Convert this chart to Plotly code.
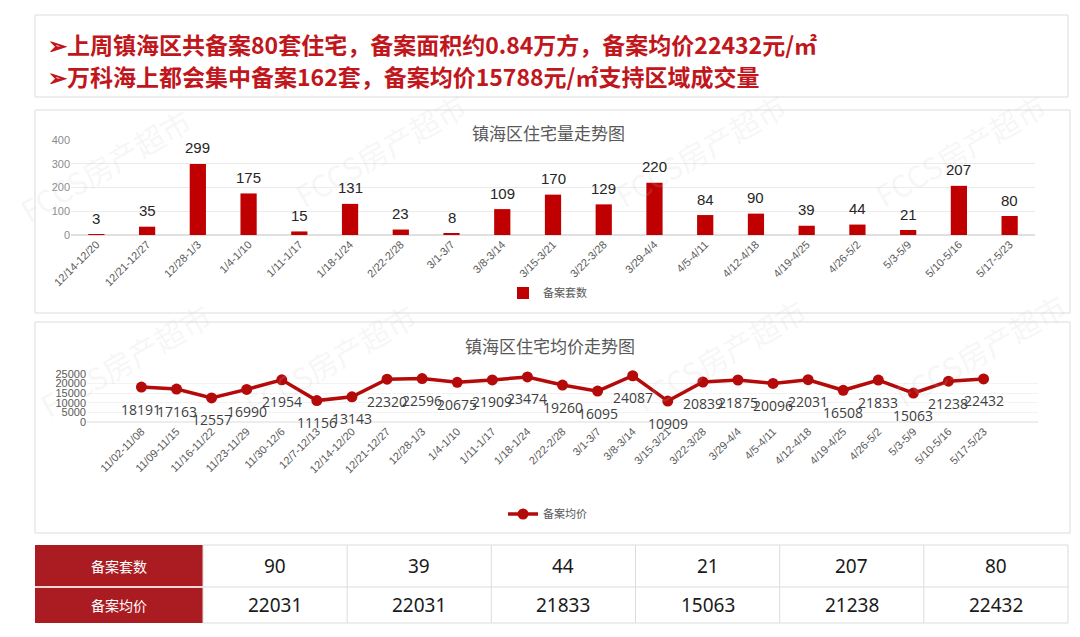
import plotly.graph_objects as go

# ---------------- data ----------------
headline_lines = [
    "➢上周镇海区共备案80套住宅，备案面积约0.84万方，备案均价22432元/㎡",
    "➢万科海上都会集中备案162套，备案均价15788元/㎡支持区域成交量",
]

bar_title = "镇海区住宅量走势图"
bar_series_name = "备案套数"
bar_weeks = ["12/14-12/20", "12/21-12/27", "12/28-1/3", "1/4-1/10", "1/11-1/17",
             "1/18-1/24", "2/22-2/28", "3/1-3/7", "3/8-3/14", "3/15-3/21",
             "3/22-3/28", "3/29-4/4", "4/5-4/11", "4/12-4/18", "4/19-4/25",
             "4/26-5/2", "5/3-5/9", "5/10-5/16", "5/17-5/23"]
bar_counts = [3, 35, 299, 175, 15, 131, 23, 8, 109, 170, 129, 220, 84, 90, 39, 44, 21, 207, 80]

line_title = "镇海区住宅均价走势图"
line_series_name = "备案均价"
line_weeks = ["11/02-11/08", "11/09-11/15", "11/16-11/22", "11/23-11/29", "11/30-12/6",
              "12/7-12/13", "12/14-12/20", "12/21-12/27", "12/28-1/3", "1/4-1/10",
              "1/11-1/17", "1/18-1/24", "2/22-2/28", "3/1-3/7", "3/8-3/14",
              "3/15-3/21", "3/22-3/28", "3/29-4/4", "4/5-4/11", "4/12-4/18",
              "4/19-4/25", "4/26-5/2", "5/3-5/9", "5/10-5/16", "5/17-5/23"]
line_prices = [18191, 17163, 12557, 16990, 21954, 11156, 13143, 22320, 22596, 20675,
               21909, 23474, 19260, 16095, 24087, 10909, 20839, 21875, 20096, 22031,
               16508, 21833, 15063, 21238, 22432]

table_row_headers = ["备案套数", "备案均价"]
table_counts = [90, 39, 44, 21, 207, 80]
table_prices = [22031, 22031, 21833, 15063, 21238, 22432]

watermark_text = "FCCS房产超市"

# ---------------- helpers ----------------
W, H = 1080, 637
def px(x):
    return x / W
def py(y):
    return 1 - y / H

RED = "#C00000"
LINE_RED = "#B40A0A"
DARK_RED = "#AA1C22"
GRID = "#EBEBEB"
BORDER = "#DCDCDC"
CJK = "Noto Sans CJK SC, Noto Sans, sans-serif"
NUM = "Liberation Sans, Arial, sans-serif"

fig = go.Figure()

fig.add_trace(go.Bar(
    x=bar_weeks, y=bar_counts, name=bar_series_name,
    marker=dict(color=RED, line=dict(width=0)), width=0.32,
    xaxis="x", yaxis="y", legend="legend", hoverinfo="x+y",
))

fig.add_trace(go.Scatter(
    x=line_weeks, y=line_prices, name=line_series_name, mode="lines+markers",
    line=dict(color=LINE_RED, width=3.5),
    marker=dict(size=11, color=LINE_RED),
    xaxis="x2", yaxis="y2", legend="legend2", cliponaxis=False,
))

annotations = []
shapes = []

def paper_text(x, y, text, font, xanchor="center", yanchor="middle", **kw):
    d = dict(x=px(x), y=py(y), xref="paper", yref="paper", text=text, showarrow=False,
             xanchor=xanchor, yanchor=yanchor, font=font)
    d.update(kw)
    annotations.append(d)

# watermarks (drawn first, so underneath other texts)
for (wx, wy) in [(105, 165), (380, 150), (700, 150), (960, 150), (125, 360), (330, 360), (720, 355), (980, 350)]:
    paper_text(wx, wy, watermark_text, dict(size=30, color="rgba(200,200,200,0.16)", family=CJK), textangle=-30)

# bar labels
for wk, v in zip(bar_weeks, bar_counts):
    annotations.append(dict(x=wk, y=v, xref="x", yref="y", text=str(v), showarrow=False,
                            xanchor="center", yanchor="middle",
                            yshift=16, font=dict(size=15, color="#262626", family=NUM)))
# line labels
for wk, v in zip(line_weeks, line_prices):
    annotations.append(dict(x=wk, y=v, xref="x2", yref="y2", text=str(v), showarrow=False,
                            xanchor="center", yanchor="middle",
                            yshift=-22, font=dict(size=14, color="#404040", family="Open Sans, sans-serif")))

# panel boxes
for (x0, y0, x1, y1) in [(35, 15, 1068, 97), (35, 110, 1070, 313), (35, 322, 1070, 533)]:
    shapes.append(dict(type="rect", xref="paper", yref="paper", x0=px(x0), x1=px(x1),
                       y0=py(y1), y1=py(y0), line=dict(color=BORDER, width=1), fillcolor="rgba(0,0,0,0)",
                       layer="below"))

# headline text
for i, t in enumerate(headline_lines):
    paper_text(46, 44 + 32 * i, "<b>" + t + "</b>",
               dict(size=23, color="#C0161C", family=CJK), xanchor="left")

# chart titles
paper_text(548, 132, bar_title, dict(size=17, color="#595959", family=CJK))
paper_text(550, 345, line_title, dict(size=17, color="#595959", family=CJK))

# table
tx0, tx1, thead = 35, 1068, 203
ty0, tmid, ty1 = 545, 587, 623
ncol = len(table_counts)
colw = (tx1 - thead) / ncol
shapes.append(dict(type="rect", xref="paper", yref="paper", x0=px(tx0), x1=px(thead), y0=py(ty1), y1=py(ty0),
                   fillcolor=DARK_RED, line=dict(width=0), layer="below"))
shapes.append(dict(type="line", xref="paper", yref="paper", x0=px(tx0), x1=px(thead), y0=py(tmid), y1=py(tmid),
                   line=dict(color="#F2D5D5", width=2)))
shapes.append(dict(type="rect", xref="paper", yref="paper", x0=px(thead), x1=px(tx1), y0=py(ty1), y1=py(ty0),
                   fillcolor="white", line=dict(color=BORDER, width=1), layer="below"))
shapes.append(dict(type="line", xref="paper", yref="paper", x0=px(thead), x1=px(tx1), y0=py(tmid), y1=py(tmid),
                   line=dict(color=BORDER, width=1)))
for c in range(1, ncol):
    xc = thead + c * colw
    shapes.append(dict(type="line", xref="paper", yref="paper", x0=px(xc), x1=px(xc), y0=py(ty1), y1=py(ty0),
                       line=dict(color=BORDER, width=1)))
row_centers = [(ty0 + tmid) / 2, (tmid + ty1) / 2]
for r, lab in enumerate(table_row_headers):
    paper_text((tx0 + thead) / 2, row_centers[r], lab, dict(size=14, color="white", family=CJK))
for r, row in enumerate([table_counts, table_prices]):
    for c, v in enumerate(row):
        paper_text(thead + (c + 0.5) * colw, row_centers[r], str(v),
                   dict(size=19, color="#1A1A1A", family="Noto Sans, sans-serif"))

fig.update_layout(
    width=W, height=H, margin=dict(l=0, r=0, t=0, b=0, autoexpand=False),
    paper_bgcolor="white", plot_bgcolor="rgba(0,0,0,0)",
    showlegend=True,
    xaxis=dict(domain=[px(71), px(1035)], anchor="y", tickangle=-45, automargin=False,
               tickfont=dict(size=11, color="#595959", family=NUM), showgrid=False,
               showline=False, ticks=""),
    yaxis=dict(domain=[py(235), py(140)], anchor="x", range=[0, 400], dtick=100, automargin=False,
               tickfont=dict(size=11, color="#8C8C8C", family=NUM), gridcolor=GRID,
               zeroline=True, zerolinecolor="#E0E0E0", showline=False, ticks=""),
    xaxis2=dict(domain=[px(87), px(1038)], anchor="y2", tickangle=-45, automargin=False,
                tickfont=dict(size=11, color="#595959", family=NUM), showgrid=False,
                showline=False, ticks=""),
    yaxis2=dict(domain=[py(422), py(374)], anchor="x2", range=[0, 25000], dtick=5000, automargin=False,
                tickformat="d",
                tickfont=dict(size=11, color="#595959", family=NUM), gridcolor="#F3F3F3",
                zeroline=True, zerolinecolor="#EDEDED", showline=False, ticks=""),
    legend=dict(x=px(503), y=py(293), xanchor="left", yanchor="middle", orientation="h",
                itemwidth=30,
                font=dict(size=11, color="#595959", family=CJK), bgcolor="rgba(0,0,0,0)"),
    legend2=dict(x=px(503), y=py(514), xanchor="left", yanchor="middle", orientation="h",
                 itemwidth=30,
                 font=dict(size=11, color="#595959", family=CJK), bgcolor="rgba(0,0,0,0)"),
    annotations=annotations, shapes=shapes,
)

fig.write_html("out.html", config={"displayModeBar": False},
               post_script="document.body.style.margin='0';document.body.style.padding='0';")
